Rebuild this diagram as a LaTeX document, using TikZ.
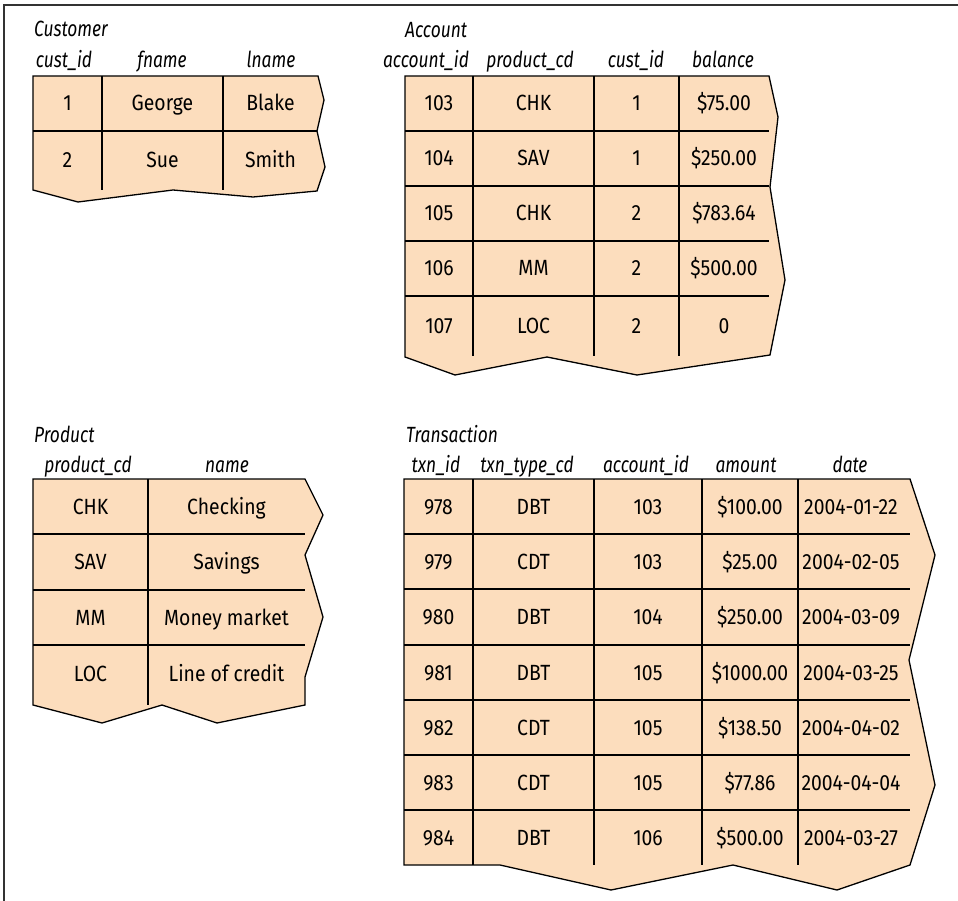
\documentclass[tikz,border=0pt]{standalone}
\usepackage{fontspec}
\setmainfont[FakeStretch=0.88]{Fira Sans}
\newfontfamily\hdrfont[FakeStretch=0.79]{Fira Sans}
\definecolor{peach}{RGB}{252,221,189}
\tikzset{
  tbl/.style={fill=peach, draw=black, line width=1.3pt, line join=miter},
  gridline/.style={draw=black, line width=1.3pt},
  cell/.style={anchor=base, inner sep=0pt, font=\fontsize{22}{25}\selectfont},
  hdr/.style={anchor=base, inner sep=0pt, font=\hdrfont\fontsize{22}{25}\selectfont\itshape},
  ttl/.style={anchor=base west, inner sep=0pt, font=\hdrfont\fontsize{22}{25}\selectfont\itshape},
  framel/.style={draw=black!80, line width=2pt}
}
\begin{document}
\begin{tikzpicture}[x=1pt,y=-1pt]
\useasboundingbox (0,0) rectangle (958,901);
\draw[framel] (4,901) -- (4,5) -- (958,5);

% ---------------- Customer ----------------
\draw[tbl] (33,76) -- (318,76) -- (324,100) -- (317,131) -- (325,167) -- (317,191)
  -- (253,197) -- (173,190) -- (78,202) -- (33,190) -- cycle;
\draw[gridline] (102,76) -- (102,190) (223,76) -- (223,190) (33,131) -- (317,131);
\node[ttl] (custT) at (34,37) {Customer};
\node[hdr] (custH1) at (64,68) {cust\_id};
\node[hdr] (custH2) at (162,68) {fname};
\node[hdr] (custH3) at (271,68) {lname};
\node[cell] (cust11) at (67.5,111) {1};
\node[cell] (cust12) at (162.5,111) {George};
\node[cell] (cust13) at (270.5,111) {Blake};
\node[cell] (cust21) at (67.5,168) {2};
\node[cell] (cust22) at (162.5,168) {Sue};
\node[cell] (cust23) at (270.5,168) {Smith};

% ---------------- Account ----------------
\draw[tbl] (405,76) -- (769,76) -- (778,117) -- (770,187) -- (785,280) -- (770,355)
  -- (637,375) -- (547,357) -- (455,375) -- (405,357) -- cycle;
\draw[gridline] (473,76) -- (473,356) (594,76) -- (594,356) (679,76) -- (679,356);
\foreach \yy in {131,186,241,296} \draw[gridline] (405,\yy) -- (769,\yy);
\node[ttl] (accT) at (405,38) {Account};
\node[hdr] (accH1) at (426,68) {account\_id};
\node[hdr] (accH2) at (530,68) {product\_cd};
\node[hdr] (accH3) at (636,68) {cust\_id};
\node[hdr] (accH4) at (723,68) {balance};
\foreach \a/\b/\c/\d/\yy [count=\i] in {103/CHK/1/\$75.00/111, 104/SAV/1/\$250.00/166,
    105/CHK/2/\$783.64/221, 106/MM/2/\$500.00/276, 107/LOC/2/0/333} {
  \node[cell] (acc\i a) at (439,\yy) {\a};
  \node[cell] (acc\i b) at (533.5,\yy) {\b};
  \node[cell] (acc\i c) at (636.5,\yy) {\c};
  \node[cell] (acc\i d) at (724,\yy) {\d};
}

% ---------------- Product ----------------
\draw[tbl] (33,479) -- (305,479) -- (323,515) -- (305,555) -- (323,617) -- (305,677) -- (305,705)
  -- (217,723) -- (162,705) -- (102,723) -- (33,705) -- cycle;
\draw[gridline] (148,479) -- (148,705);
\foreach \yy in {534,590,645} \draw[gridline] (33,\yy) -- (305,\yy);
\node[ttl] (prodT) at (34,442) {Product};
\node[hdr] (prodH1) at (88,472) {product\_cd};
\node[hdr] (prodH2) at (227,472) {name};
\foreach \a/\b/\yy [count=\i] in {CHK/Checking/514, SAV/Savings/569.5,
    MM/Money market/625, LOC/Line of credit/681} {
  \node[cell] (prod\i a) at (90.5,\yy) {\a};
  \node[cell] (prod\i b) at (226.5,\yy) {\b};
}

% ---------------- Transaction ----------------
\draw[tbl] (404,479) -- (910,479) -- (935,555) -- (909,660) -- (935,785) -- (910,865)
  -- (837,890) -- (733,865) -- (611,890) -- (500,865) -- (404,865) -- cycle;
\draw[gridline] (473,479) -- (473,865) (594,479) -- (594,865) (702,479) -- (702,865) (798,479) -- (798,865);
\foreach \yy in {534,589,645,700,755,810} \draw[gridline] (404,\yy) -- (910,\yy);
\node[ttl] (txnT) at (406,442) {Transaction};
\node[hdr] (txnH1) at (436,472) {txn\_id};
\node[hdr] (txnH2) at (527,472) {txn\_type\_cd};
\node[hdr] (txnH3) at (646,472) {account\_id};
\node[hdr] (txnH4) at (746,472) {amount};
\node[hdr] (txnH5) at (850,472) {date};
\foreach \a/\b/\c/\d/\e/\yy [count=\i] in {
    978/DBT/103/\$100.00/2004-01-22/514,
    979/CDT/103/\$25.00/2004-02-05/569,
    980/DBT/104/\$250.00/2004-03-09/624.5,
    981/DBT/105/\$1000.00/2004-03-25/680,
    982/CDT/105/\$138.50/2004-04-02/735,
    983/CDT/105/\$77.86/2004-04-04/790,
    984/DBT/106/\$500.00/2004-03-27/845} {
  \node[cell] (txn\i a) at (438.5,\yy) {\a};
  \node[cell] (txn\i b) at (533.5,\yy) {\b};
  \node[cell] (txn\i c) at (648,\yy) {\c};
  \node[cell] (txn\i d) at (750,\yy) {\d};
  \node[cell] (txn\i e) at (851,\yy) {\e};
}
\end{tikzpicture}
\end{document}
